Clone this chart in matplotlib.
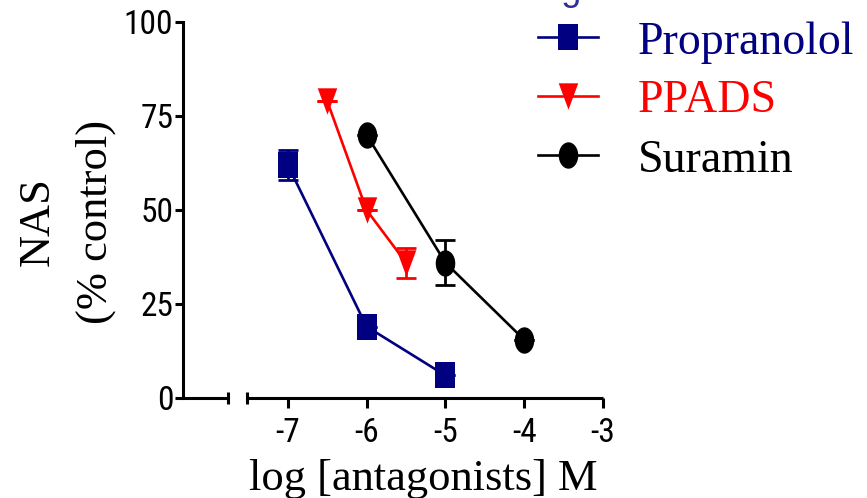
import matplotlib
matplotlib.use('Agg')
import matplotlib.pyplot as plt
from matplotlib import font_manager
from matplotlib.path import Path
from matplotlib.transforms import Affine2D

# data
prop_x = [-7, -6, -5]
prop_y = [62, 19, 6]
prop_err = [4, 0, 0]

ppads_x = [-6.5, -6, -5.5]
ppads_y = [79, 50, 36]
ppads_err = [0, 0, 4]

sur_x = [-6, -5, -4]
sur_y = [70, 36, 15.5]
sur_err = [0, 6, 0]

x_ticks = [-7, -6, -5, -4, -3]
x_tick_labels = ['-7', '-6', '-5', '-4', '-3']
y_ticks = [0, 25, 50, 75, 100]
y_tick_labels = ['0', '25', '50', '75', '100']

names = ['Propranolol', 'PPADS', 'Suramin']
colors = ['#000080', '#ff0000', '#000000']

serif = 'Liberation Serif'


def pick_narrow():
    # look for an installed condensed sans, Arial Narrow look-alike
    prefs = ['Liberation Sans Narrow', 'Roboto Condensed', 'Open Sans Condensed',
             'Noto Sans Condensed', 'DejaVu Sans Condensed']
    found = {}
    for f in font_manager.fontManager.ttflist:
        if f.style != 'normal' or f.weight not in (400, 'normal', 'regular'):
            continue
        key = f.name
        if f.stretch in ('condensed', 'semi-condensed') and 'Condensed' not in key:
            key = key + ' Condensed'
        found.setdefault(key, f.fname)
    for p in prefs:
        if p in found:
            return font_manager.FontProperties(fname=found[p], size=24)
    return font_manager.FontProperties(family='Liberation Sans', size=22)


tick_font = pick_narrow()

# the reference is stretched vertically, so stretch the markers too
stretch = 1.35
circ = Path.unit_circle().transformed(Affine2D().scale(1, stretch))
square = Path([(-1, -stretch), (1, -stretch), (1, stretch), (-1, stretch), (-1, -stretch)],
              [Path.MOVETO, Path.LINETO, Path.LINETO, Path.LINETO, Path.CLOSEPOLY])
tri = Path([(0, -stretch), (-1, stretch), (1, stretch), (0, -stretch)],
           [Path.MOVETO, Path.LINETO, Path.LINETO, Path.CLOSEPOLY])

fig = plt.figure(figsize=(8.67, 4.98), dpi=100)
ax = fig.add_axes([183 / 867, 1 - 398 / 498, (603 - 183) / 867, (398 - 22) / 498])

series = [(prop_x, prop_y, prop_err, square),
          (ppads_x, ppads_y, ppads_err, tri),
          (sur_x, sur_y, sur_err, circ)]
handles = []
for (xs, ys, es, mk), c, name in zip(series, colors, names):
    ax.errorbar(xs, ys, yerr=es, fmt='none', ecolor=c, elinewidth=2, capsize=7,
                capthick=2, clip_on=False, zorder=2)
    h, = ax.plot(xs, ys, color=c, lw=1.9, marker=mk, markersize=19,
                 markeredgewidth=0, clip_on=False, zorder=3, label=name)
    handles.append(h)

x_left = -7 - (288 - 183) / 79
ax.set_xlim(x_left, -3)
ax.set_ylim(0, 100)

# Prism style broken x axis
ax.spines['top'].set_visible(False)
ax.spines['right'].set_visible(False)
ax.spines['bottom'].set_visible(False)
ax.spines['left'].set_linewidth(2.2)
xt = ax.get_xaxis_transform()
seg1 = [x_left, -7 - (288 - 228) / 79]
seg2 = [-7 - (288 - 247) / 79, -3]
ax.plot(seg1, [0, 0], color='black', lw=2.2, transform=xt, clip_on=False, solid_capstyle='butt')
ax.plot(seg2, [0, 0], color='black', lw=2.2, transform=xt, clip_on=False, solid_capstyle='butt')
ax.plot([seg1[1], seg2[0]], [0, 0], ls='none', marker='|', markersize=8, mew=2.2,
        color='black', transform=xt, clip_on=False)

ax.set_xticks(x_ticks)
ax.set_xticklabels(x_tick_labels, fontproperties=tick_font)
ax.set_yticks(y_ticks)
ax.set_yticklabels(y_tick_labels, fontproperties=tick_font)
ax.tick_params(axis='x', length=7, width=2.2, pad=7)
ax.tick_params(axis='y', length=6, width=2.2, pad=1)

fig.text(423 / 867, 1 - 490 / 498, 'log [antagonists] M', ha='center', va='baseline',
         fontfamily=serif, fontsize=32)
fig.text(67 / 867, 1 - 222 / 498, 'NAS\n(% control)', ha='center', va='center',
         rotation=90, fontfamily=serif, fontsize=32, linespacing=1.55)

# title, cut off by the top edge in the reference
fig.text(505 / 867, 1.0, 'Selective antagonists', ha='center', va='baseline',
         fontfamily='Liberation Sans', fontsize=26, color='#2e3192')

ax.legend(handles, names, loc='upper left', bbox_to_anchor=(538 / 867, 1 - 21 / 498),
          bbox_transform=fig.transFigure, frameon=False,
          prop={'family': serif, 'size': 33}, handlelength=1.3, handletextpad=0.87,
          labelspacing=0.36, borderpad=0, borderaxespad=0, markerscale=1.0,
          labelcolor='linecolor')

fig.savefig('out.png', dpi=100)
